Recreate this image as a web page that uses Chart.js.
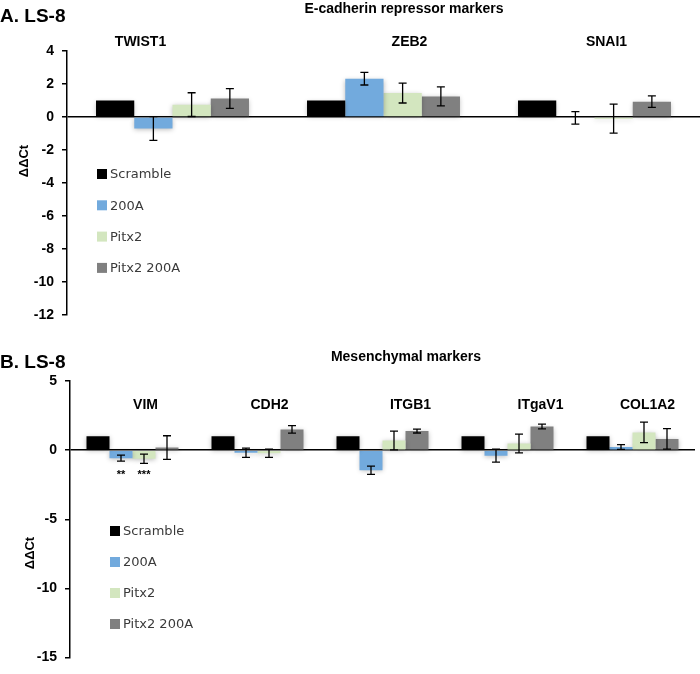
<!DOCTYPE html>
<html>
<head>
<meta charset="utf-8">
<script src="https://cdn.jsdelivr.net/npm/chart.js@4"></script>
<style>
  body { margin: 0; background: #fff; }
  .panel { position: absolute; left: 0; width: 700px; height: 337px; }
</style>
</head>
<body>
<div class="panel" style="top:0"><canvas id="panel-a" width="700" height="337"></canvas></div>
<div class="panel" style="top:337px"><canvas id="panel-b" width="700" height="337"></canvas></div>
<script>
const seriesNames = ["Scramble", "200A", "Pitx2", "Pitx2 200A"];
const seriesColors = ["#000000", "#72aadd", "#d3e6bf", "#808080"];

// A. E-cadherin repressor markers
const categoriesA = ["TWIST1", "ZEB2", "SNAI1"];
const scrambleA = [1, 1, 1];
const mir200aA = [-0.7, 2.32, -0.05];
const mir200aErrA = [0.72, 0.38, 0.38];
const pitx2A = [0.75, 1.45, -0.1];
const pitx2ErrA = [0.72, 0.6, 0.88];
const pitx2mirA = [1.12, 1.25, 0.93];
const pitx2mirErrA = [0.6, 0.57, 0.35];
const ticksA = { min: -12, max: 4, step: 2 };

// B. Mesenchymal markers
const categoriesB = ["VIM", "CDH2", "ITGB1", "ITgaV1", "COL1A2"];
const scrambleB = [1, 1, 1, 1, 1];
const mir200aB = [-0.58, -0.19, -1.45, -0.4, 0.23];
const mir200aErrB = [0.22, 0.33, 0.3, 0.47, 0.17];
const pitx2B = [-0.62, -0.22, 0.7, 0.48, 1.28];
const pitx2ErrB = [0.33, 0.3, 0.68, 0.68, 0.74];
const pitx2mirB = [0.19, 1.5, 1.38, 1.71, 0.81];
const pitx2mirErrB = [0.85, 0.27, 0.14, 0.17, 0.74];
const starsB = [
  { series: 1, index: 0, text: "**" },
  { series: 2, index: 0, text: "***" },
];
const ticksB = { min: -15, max: 5, step: 5 };

function makeDatasets(values, errors) {
  return values.map((v, i) => ({
    label: seriesNames[i],
    data: v,
    errors: errors[i],
    backgroundColor: seriesColors[i],
    borderWidth: 0,
  }));
}

// draws titles, group labels, legend, error bars and stars
const decorations = {
  id: "decorations",
  beforeDatasetsDraw(chart) {
    const ctx = chart.ctx;
    ctx.save();
    ctx.shadowColor = "rgba(0,0,0,0.28)";
    ctx.shadowBlur = 5;
    ctx.shadowOffsetY = 1;
  },
  afterDatasetsDraw(chart, args, opts) {
    const ctx = chart.ctx;
    ctx.restore();
    const y = chart.scales.y;
    ctx.save();
    ctx.strokeStyle = "#000";
    ctx.lineWidth = 1.3;
    chart.data.datasets.forEach((ds, di) => {
      const meta = chart.getDatasetMeta(di);
      meta.data.forEach((bar, i) => {
        const e = ds.errors ? ds.errors[i] : 0;
        if (!e) return;
        const v = ds.data[i];
        const top = y.getPixelForValue(v + e);
        const bot = y.getPixelForValue(v - e);
        ctx.beginPath();
        ctx.moveTo(bar.x, top);
        ctx.lineTo(bar.x, bot);
        ctx.moveTo(bar.x - 4, top);
        ctx.lineTo(bar.x + 4, top);
        ctx.moveTo(bar.x - 4, bot);
        ctx.lineTo(bar.x + 4, bot);
        ctx.stroke();
      });
    });
    ctx.restore();
  },
  afterDraw(chart, args, opts) {
    const ctx = chart.ctx;
    const x = chart.scales.x;
    const y = chart.scales.y;
    ctx.save();
    ctx.fillStyle = "#000";
    ctx.textBaseline = "middle";

    ctx.textAlign = "left";
    ctx.font = "bold 19px 'Liberation Sans', Arial, sans-serif";
    ctx.fillText(opts.panel, 0, opts.panelY);

    ctx.textAlign = "center";
    ctx.font = "bold 14px 'Liberation Sans', Arial, sans-serif";
    ctx.fillText(opts.title, opts.titleX, opts.titleY);

    chart.data.labels.forEach((lab, i) => {
      ctx.fillText(lab, x.getPixelForValue(i) + opts.labelShift[i], opts.labelY);
    });

    ctx.font = "bold 11px 'Liberation Sans', Arial, sans-serif";
    (opts.stars || []).forEach((s) => {
      const bar = chart.getDatasetMeta(s.series).data[s.index];
      ctx.fillText(s.text, bar.x, y.getPixelForValue(0) + 25);
    });

    // rotated axis title
    ctx.save();
    ctx.translate(opts.axisTitleX, opts.axisTitleY);
    ctx.rotate(-Math.PI / 2);
    ctx.font = "bold 13px 'Liberation Sans', Arial, sans-serif";
    ctx.fillText("ΔΔCt", 0, 0);
    ctx.restore();

    // legend inside the plot
    ctx.textAlign = "left";
    ctx.font = "13px 'DejaVu Sans', sans-serif";
    chart.data.datasets.forEach((ds, i) => {
      const cy = opts.legendY + i * opts.legendGap;
      ctx.fillStyle = ds.backgroundColor;
      ctx.fillRect(opts.legendX, cy - 5, 10, 10);
      ctx.fillStyle = "#3a3a3a";
      ctx.fillText(ds.label, opts.legendX + 13, cy + 1);
    });
    ctx.restore();
  },
};

function makeChart(id, labels, datasets, t, pad, axisWidth, catPct, deco) {
  return new Chart(document.getElementById(id), {
    type: "bar",
    data: { labels: labels, datasets: datasets },
    plugins: [decorations],
    options: {
      responsive: false,
      animation: false,
      layout: { padding: pad },
      datasets: { bar: { barPercentage: 1, categoryPercentage: catPct } },
      scales: {
        x: { display: false },
        y: {
          min: t.min,
          max: t.max,
          z: 1,
          ticks: {
            stepSize: t.step,
            color: "#000",
            padding: 8,
            font: { family: "'Liberation Sans', Arial, sans-serif", size: 14, weight: "bold" },
          },
          grid: {
            color: (c) => (c.tick && c.tick.value === 0 ? "#000" : "rgba(0,0,0,0)"),
            tickColor: "#000",
            tickLength: 5,
            lineWidth: 1.5,
          },
          border: { color: "#000", width: 1.5 },
          afterFit: (s) => { s.width = axisWidth; },
        },
      },
      plugins: {
        legend: { display: false },
        tooltip: { enabled: false },
        decorations: deco,
      },
    },
  });
}

makeChart(
  "panel-a",
  categoriesA,
  makeDatasets(
    [scrambleA, mir200aA, pitx2A, pitx2mirA],
    [null, mir200aErrA, pitx2ErrA, pitx2mirErrA]
  ),
  ticksA,
  { top: 51, bottom: 22, left: 0, right: 0 },
  67,
  0.725,
  {
    panel: "A. LS-8", panelY: 17,
    title: "E-cadherin repressor markers", titleX: 404, titleY: 9,
    labelY: 42, labelShift: [-32, 26, 12],
    axisTitleX: 24, axisTitleY: 161,
    legendX: 97, legendY: 174, legendGap: 31.3,
  }
);

makeChart(
  "panel-b",
  categoriesB,
  makeDatasets(
    [scrambleB, mir200aB, pitx2B, pitx2mirB],
    [null, mir200aErrB, pitx2ErrB, pitx2mirErrB]
  ),
  ticksB,
  { top: 44, bottom: 9, left: 0, right: 5 },
  70,
  0.736,
  {
    panel: "B. LS-8", panelY: 26,
    title: "Mesenchymal markers", titleX: 406, titleY: 20,
    labelY: 68, labelShift: [13, 12, 28, 33, 15],
    axisTitleX: 30, axisTitleY: 216,
    legendX: 110, legendY: 194, legendGap: 31,
    stars: starsB,
  }
);
</script>
</body>
</html>
